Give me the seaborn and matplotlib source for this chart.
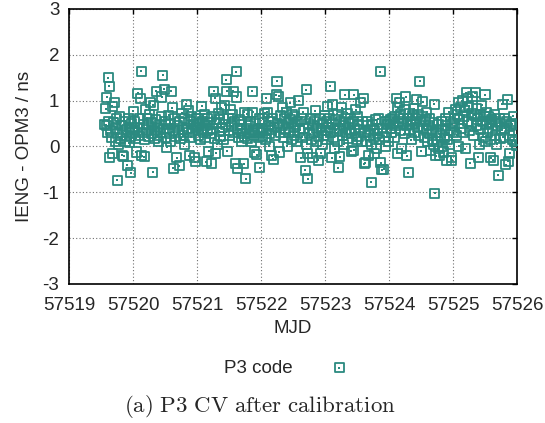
import numpy as np
import pandas as pd
import matplotlib
matplotlib.use("Agg")
import matplotlib.pyplot as plt
import seaborn as sns

# P3 code common-view: IENG - OPM3 (ns)
# fraction of the MJD day and the offset value
days = [57519, 57520, 57521, 57522, 57523, 57524, 57525]

frac_57519 = [0.557, 0.571, 0.580, 0.590, 0.600, 0.612, 0.617, 0.628, 0.640, 0.650,
              0.662, 0.672, 0.684, 0.695, 0.710, 0.720, 0.733, 0.745, 0.754, 0.765,
              0.778, 0.790, 0.803, 0.815, 0.830, 0.842, 0.855, 0.868, 0.880, 0.893,
              0.905, 0.912, 0.925, 0.938, 0.950, 0.962, 0.967, 0.980, 0.992]
off_57519 = [0.47, 0.82, 0.46, 1.07, 0.30, 0.55, 1.50, 1.31, -0.25, 0.35,
             0.20, 0.88, -0.15, 0.52, 0.96, 0.10, 0.40, 0.62, -0.74, 0.28,
             0.05, 0.66, 0.18, 0.45, -0.19, 0.30, -0.21, 0.55, 0.12, 0.38,
             0.25, -0.41, 0.60, 0.08, 0.42, 0.22, -0.57, 0.50, 0.30]

frac_57520 = [0.005, 0.018, 0.030, 0.043, 0.054, 0.065, 0.078, 0.090, 0.100, 0.115,
              0.128, 0.135, 0.145, 0.158, 0.174, 0.185, 0.198, 0.210, 0.222, 0.235,
              0.248, 0.260, 0.272, 0.284, 0.296, 0.310, 0.318, 0.330, 0.342, 0.355,
              0.365, 0.378, 0.390, 0.402, 0.415, 0.428, 0.440, 0.447, 0.464, 0.475,
              0.490, 0.502, 0.515, 0.530, 0.542, 0.555, 0.568, 0.580, 0.592, 0.600,
              0.612, 0.630, 0.642, 0.655, 0.668, 0.680, 0.692, 0.705, 0.720, 0.732,
              0.745, 0.758, 0.770, 0.785, 0.800, 0.812, 0.830, 0.845, 0.860, 0.875,
              0.880, 0.892, 0.905, 0.918, 0.930, 0.945, 0.960, 0.970, 0.982, 0.994]
off_57520 = [0.77, 0.35, 0.55, 0.18, -0.12, 0.42, 1.16, 0.25, 0.60, 1.05,
             1.64, -0.20, 0.30, 0.48, -0.22, 0.15, 0.80, 0.38, 0.62, 0.22,
             0.45, 0.70, 0.95, 0.28, 0.52, -0.56, 0.90, 0.35, 0.18, 0.58,
             1.21, 0.42, 0.25, 0.10, 0.48, 0.30, 0.65, 1.08, 1.55, 0.38,
             1.25, 0.20, 0.55, -0.02, 0.40, 0.68, 0.28, 0.12, 0.50, 1.20,
             0.85, -0.48, 0.35, 0.60, 0.22, -0.25, 0.45, 0.30, -0.42, 0.55,
             0.18, 0.72, 0.38, 0.25, 0.05, 0.62, 0.92, 0.40, 0.78, 0.30,
             -0.20, 0.55, 0.20, 0.66, 0.35, 0.48, -0.25, -0.33, 0.42, 0.60]

frac_57521 = [0.005, 0.018, 0.030, 0.042, 0.055, 0.068, 0.075, 0.088, 0.100, 0.112,
              0.125, 0.138, 0.146, 0.158, 0.170, 0.180, 0.192, 0.205, 0.220, 0.232,
              0.245, 0.258, 0.270, 0.285, 0.295, 0.305, 0.320, 0.332, 0.345, 0.358,
              0.370, 0.382, 0.395, 0.408, 0.420, 0.430, 0.445, 0.458, 0.465, 0.472,
              0.485, 0.498, 0.510, 0.522, 0.535, 0.548, 0.565, 0.578, 0.590, 0.605,
              0.612, 0.620, 0.632, 0.640, 0.652, 0.665, 0.678, 0.690, 0.702, 0.715,
              0.728, 0.735, 0.748, 0.760, 0.772, 0.782, 0.795, 0.808, 0.820, 0.835,
              0.848, 0.860, 0.870, 0.882, 0.894, 0.906, 0.918, 0.933, 0.945, 0.958,
              0.970, 0.980, 0.992]
off_57521 = [0.45, 0.62, 0.25, 0.50, 0.15, 0.38, 0.88, 0.55, 0.30, 0.70,
             0.20, 0.45, -0.33, 0.60, 0.35, -0.10, 0.52, 0.28, -0.38, 0.65,
             0.40, 1.20, 0.18, 1.05, -0.15, 0.50, 0.05, 0.72, 0.33, 0.58,
             0.22, 0.85, 0.42, 0.60, 0.15, 0.90, 0.48, 1.46, 1.20, -0.10,
             0.35, 0.62, 0.25, 0.80, 0.45, 0.70, 1.20, 0.30, 0.55, -0.38,
             1.63, 1.08, 0.40, -0.47, 0.20, 0.58, 0.35, 0.12, 0.48, 0.28,
             -0.38, 0.75, 0.22, -0.70, 0.40, 0.70, 0.18, 0.45, 0.30, 0.55,
             0.10, 1.20, 0.75, 0.35, -0.12, 0.25, 0.50, -0.18, 0.38, 0.20,
             0.60, -0.46, 0.30]

frac_57522 = [0.005, 0.018, 0.030, 0.042, 0.055, 0.068, 0.085, 0.100, 0.112, 0.125,
              0.132, 0.145, 0.158, 0.170, 0.182, 0.195, 0.208, 0.220, 0.240, 0.250,
              0.262, 0.275, 0.288, 0.300, 0.312, 0.330, 0.342, 0.355, 0.368, 0.380,
              0.392, 0.410, 0.422, 0.435, 0.457, 0.468, 0.480, 0.492, 0.505, 0.518,
              0.530, 0.542, 0.555, 0.568, 0.590, 0.602, 0.620, 0.632, 0.645, 0.658,
              0.670, 0.690, 0.710, 0.718, 0.725, 0.732, 0.745, 0.758, 0.770, 0.785,
              0.800, 0.812, 0.825, 0.838, 0.850, 0.862, 0.875, 0.894, 0.905, 0.918,
              0.930, 0.942, 0.955, 0.968, 0.980, 0.992]
off_57522 = [0.40, 0.22, 0.60, 0.35, 0.72, 0.15, 1.05, 0.75, 0.45, 0.28,
             0.00, 0.55, 0.38, -0.20, 0.62, -0.28, 0.42, 0.25, 1.13, 1.42,
             0.50, 1.10, -0.12, 0.68, 0.30, 0.85, 0.45, 0.20, 0.62, 0.38,
             0.75, 0.00, 0.52, 0.30, 0.95, 0.58, 0.15, 0.70, 0.42, 0.25,
             0.65, 0.48, 0.10, 0.55, 1.00, 0.35, -0.25, 0.60, 0.20, 0.75,
             0.40, -0.52, 1.24, 0.05, -0.15, -0.70, 0.50, 0.28, 0.62, 0.15,
             -0.25, 0.45, 0.30, 0.55, 0.78, 0.10, 0.40, -0.30, 0.22, 0.60,
             -0.15, 0.35, 0.05, 0.50, 0.25, 0.68]

frac_57523 = [0.005, 0.018, 0.030, 0.040, 0.052, 0.065, 0.080, 0.092, 0.105, 0.112,
              0.125, 0.138, 0.150, 0.162, 0.175, 0.188, 0.200, 0.210, 0.220, 0.230,
              0.242, 0.258, 0.270, 0.282, 0.295, 0.310, 0.322, 0.335, 0.348, 0.360,
              0.372, 0.385, 0.398, 0.408, 0.420, 0.432, 0.448, 0.452, 0.465, 0.478,
              0.490, 0.502, 0.515, 0.528, 0.540, 0.558, 0.570, 0.582, 0.600, 0.612,
              0.625, 0.632, 0.645, 0.658, 0.670, 0.685, 0.698, 0.710, 0.720, 0.732,
              0.745, 0.758, 0.768, 0.780, 0.792, 0.806, 0.818, 0.830, 0.845, 0.860,
              0.872, 0.885, 0.898, 0.915, 0.928, 0.940, 0.952, 0.965, 0.978, 0.990]
off_57523 = [0.35, 0.55, 0.15, 0.88, 0.42, 0.62, 1.31, 0.30, -0.25, 0.92,
             0.48, 0.20, -0.05, 0.58, 0.35, 0.70, 0.12, -0.46, 0.40, -0.22,
             0.55, 0.85, 0.25, 0.45, 0.05, 1.13, 0.60, 0.30, 0.72, 0.18,
             0.50, 0.35, 0.62, -0.10, 0.28, 0.55, -0.08, 1.13, 0.40, 0.80,
             0.15, 0.48, 0.65, 0.22, 0.38, 0.95, 0.10, 0.55, 1.05, -0.38,
             0.30, -0.35, 0.12, 0.45, 0.55, -0.20, 0.25, 0.38, -0.78, 0.05,
             0.48, 0.20, -0.15, 0.35, 0.58, -0.05, 0.28, 0.60, 0.15, 1.63,
             -0.35, -0.51, 0.40, -0.50, 0.22, 0.00, 0.55, 0.30, 0.48, 0.10]

frac_57524 = [0.005, 0.018, 0.030, 0.042, 0.055, 0.068, 0.080, 0.092, 0.105, 0.120,
              0.128, 0.135, 0.148, 0.160, 0.172, 0.185, 0.200, 0.212, 0.225, 0.238,
              0.250, 0.260, 0.272, 0.280, 0.292, 0.300, 0.312, 0.325, 0.338, 0.350,
              0.362, 0.375, 0.388, 0.400, 0.415, 0.430, 0.442, 0.455, 0.468, 0.480,
              0.492, 0.505, 0.518, 0.530, 0.542, 0.555, 0.568, 0.580, 0.590, 0.602,
              0.615, 0.628, 0.640, 0.650, 0.662, 0.675, 0.688, 0.700, 0.710, 0.715,
              0.730, 0.742, 0.755, 0.768, 0.780, 0.792, 0.805, 0.818, 0.830, 0.842,
              0.855, 0.868, 0.880, 0.890, 0.900, 0.912, 0.930, 0.945, 0.958, 0.970,
              0.980, 0.992]
off_57524 = [0.55, 0.40, 0.58, 0.30, 0.62, 0.50, 0.20, 0.65, 0.45, 1.05,
             -0.15, 0.85, 0.55, 0.95, 0.35, 0.70, -0.05, 0.50, 0.62, 0.28,
             0.80, 1.08, 0.45, -0.20, 0.60, -0.57, 0.72, 0.38, 0.55, 0.15,
             0.68, 0.48, 0.82, 0.30, 0.60, 1.02, 0.42, 0.70, 0.25, 1.42,
             0.55, -0.10, 0.65, 0.98, 0.40, 0.20, 0.58, 0.35, 0.75, 0.10,
             0.45, 0.28, 0.62, -0.08, 0.38, 0.15, 0.52, 0.05, 0.92, -1.02,
             -0.20, 0.30, 0.10, 0.48, -0.05, -0.20, 0.25, 0.55, 0.00, 0.38,
             -0.12, 0.20, 0.45, 0.60, -0.30, 0.15, 0.75, 0.05, 0.35, -0.25,
             -0.30, 0.50]

frac_57525 = [0.005, 0.018, 0.030, 0.042, 0.055, 0.068, 0.080, 0.092, 0.105, 0.118,
              0.130, 0.145, 0.158, 0.170, 0.182, 0.192, 0.205, 0.220, 0.232, 0.245,
              0.258, 0.270, 0.282, 0.295, 0.308, 0.320, 0.335, 0.348, 0.360, 0.372,
              0.385, 0.392, 0.410, 0.422, 0.435, 0.448, 0.460, 0.472, 0.485, 0.500,
              0.505, 0.518, 0.530, 0.542, 0.555, 0.568, 0.580, 0.592, 0.605, 0.618,
              0.632, 0.645, 0.658, 0.670, 0.682, 0.695, 0.710, 0.722, 0.735, 0.748,
              0.760, 0.772, 0.785, 0.798, 0.812, 0.828, 0.840, 0.852, 0.865, 0.878,
              0.890, 0.902, 0.915, 0.928, 0.940, 0.952, 0.965, 0.978, 0.988, 0.996]
off_57525 = [0.30, 0.62, 0.45, 0.80, 0.25, 0.70, 0.95, 0.00, 0.58, 0.85,
             0.40, 1.00, 0.65, 0.30, 0.78, -0.05, 1.17, 1.05, 0.55, 0.88,
             0.35, -0.37, 0.72, 0.50, 1.10, 0.25, 0.68, 1.17, 0.45, 0.82,
             0.60, -0.23, 0.05, 0.70, 0.38, 0.90, 0.55, 0.20, 0.65, 1.13,
             0.10, 0.48, 0.75, 0.30, 0.65, 0.52, 0.15, -0.25, 0.58, 0.40,
             -0.30, 0.70, 0.25, 0.55, 0.05, 0.45, -0.63, 0.62, 0.18, 0.50,
             0.35, 0.92, 0.20, 0.60, 0.40, -0.40, 0.55, 1.02, -0.32, 0.25,
             -0.15, 0.45, 0.50, 0.15, 0.66, 0.35, 0.10, 0.48, 0.05, 0.03]

fracs = [frac_57519, frac_57520, frac_57521, frac_57522, frac_57523, frac_57524, frac_57525]
offs = [off_57519, off_57520, off_57521, off_57522, off_57523, off_57524, off_57525]

xticks = [57519, 57520, 57521, 57522, 57523, 57524, 57525, 57526]
xtick_labels = ["57519", "57520", "57521", "57522", "57523", "57524", "57525", "57526"]
yticks = [-3, -2, -1, 0, 1, 2, 3]
ytick_labels = ["-3", "-2", "-1", "0", "1", "2", "3"]

teal = "#2b8a80"

parts = []
for day, fr, off in zip(days, fracs, offs):
    parts.append(pd.DataFrame({"MJD": day + np.array(fr), "offset": off}))
df = pd.concat(parts, ignore_index=True)

sns.set_style("white")
plt.rcParams["font.family"] = ["Liberation Sans", "DejaVu Sans"]
plt.rcParams["mathtext.fontset"] = "cm"

fig = plt.figure(figsize=(5.45, 4.23), dpi=100)
ax = fig.add_axes([69 / 545, 1 - 284 / 423, 448 / 545, 275 / 423])

# hollow squares with a small dot in the middle (gnuplot point style)
sns.scatterplot(data=df, x="MJD", y="offset", ax=ax, marker="s", s=42,
                color=teal, facecolors="none", edgecolor=teal, linewidth=1.3,
                legend=False, zorder=3)
sns.scatterplot(data=df, x="MJD", y="offset", ax=ax, marker="s", s=2.5,
                color=teal, linewidth=0, legend=False, zorder=3)

ax.set_xlim(57519, 57526)
ax.set_ylim(-3, 3)
ax.set_xticks(xticks)
ax.set_xticklabels(xtick_labels)
ax.set_yticks(yticks)
ax.set_yticklabels(ytick_labels)
ax.set_axisbelow(True)
ax.grid(True, linestyle=(0, (1, 2)), color="#707070", linewidth=0.8)
ax.tick_params(direction="in", top=True, right=True, length=3.5, width=1.0,
               labelsize=13.5, color="black")
ax.tick_params(axis="x", pad=9)
ax.tick_params(axis="y", pad=7)
for sp in ax.spines.values():
    sp.set_visible(True)
    sp.set_color("black")
    sp.set_linewidth(1.2)

ax.set_xlabel("MJD", fontsize=13.5, labelpad=5)
ax.set_ylabel("IENG - OPM3 / ns", fontsize=13.5, labelpad=7)

handle = (ax.collections[0], ax.collections[1])
ax.legend([handle], ["P3 code"], loc="center", bbox_to_anchor=(0.525, 0.13),
          bbox_transform=fig.transFigure, frameon=False, markerfirst=False,
          fontsize=13.5, handletextpad=2.0, handlelength=1.0)

fig.text(0.477, 1 - 406 / 423, r"$\mathrm{(a)\ P3\ CV\ after\ calibration}$",
         ha="center", va="center", fontsize=16.5)

fig.savefig("out.png", dpi=100)
